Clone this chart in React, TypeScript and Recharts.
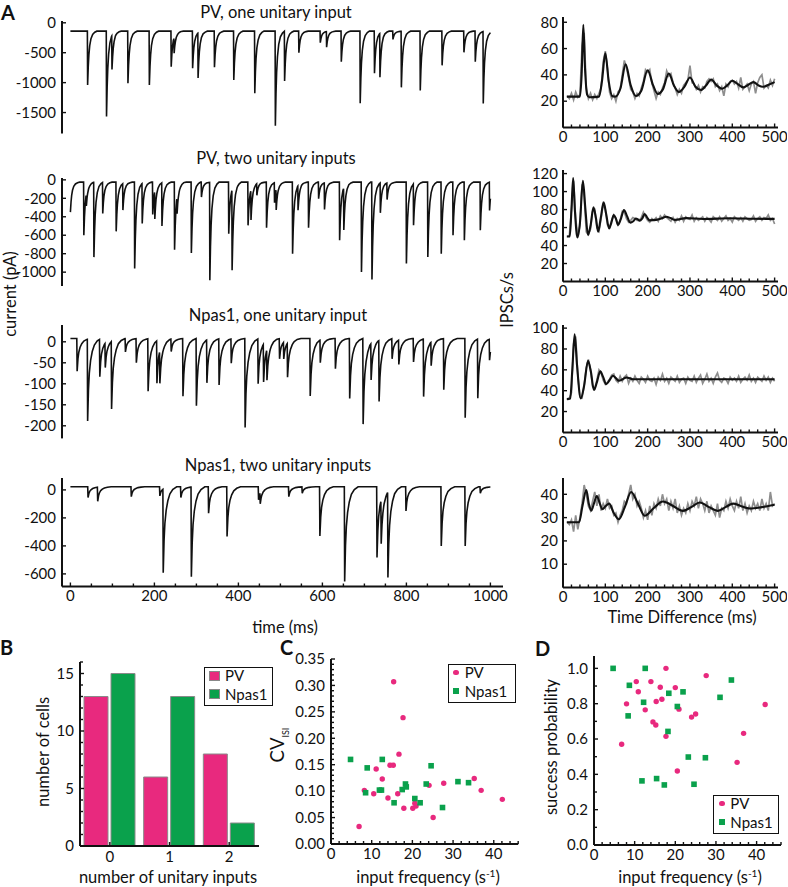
import React from "react";
import {
  LineChart,
  Line,
  XAxis,
  YAxis,
  BarChart,
  Bar,
  ScatterChart,
  Scatter,
  Legend,
} from "recharts";

const FONT = "Lato, 'Open Sans', sans-serif";
const INK = "#111";
const PINK = "#E8297E";
const GREEN = "#0AA14C";
const GRAY = "#8e8e8e";

// ---- panel A, left: IPSC events [time ms, peak pA] ----
const pvOneBase = -140;
const pvOneEvents: [number, number][] = [
  [41, -1039], [86, -1567], [99, -706], [137, -1011], [188, -1039], [240, -733],
  [247, -400], [291, -761], [304, -889], [343, -744], [389, -956], [439, -1178],
  [488, -1722], [510, -972], [544, -500], [595, -333], [610, -400], [645, -650],
  [690, -1344], [724, -844], [737, -872], [768, -278], [788, -1078], [833, -1133],
  [885, -711], [937, -494], [964, -650], [983, -1344],
];
const pvTwoBase = -25;
const pvTwoEvents: [number, number][] = [
  [0, -350], [32, -601], [38, -151], [56, -835], [77, -360], [109, -558], [125, -313],
  [153, -961], [171, -457], [196, -374], [201, -330], [218, -493], [248, -756],
  [254, -200], [288, -792], [312, -187], [332, -1087], [377, -583], [385, -900],
  [423, -493], [430, -350], [444, -151], [467, -518], [486, -241], [490, -250],
  [529, -800], [542, -288], [567, -518], [591, -205], [605, -313], [641, -655],
  [651, -480], [693, -997], [718, -1080], [738, -349], [754, -205], [800, -907],
  [817, -475], [851, -835], [883, -800], [911, -601], [938, -655], [976, -547],
  [998, -331],
];
const npOneBase = 8;
const npOneEvents: [number, number][] = [
  [16, -70], [41, -187], [70, -81], [83, -50], [98, -153], [131, -24], [157, -49],
  [185, -117], [206, -93], [213, -70], [240, -22], [268, -129], [300, -152],
  [325, -94], [354, -102], [383, -50], [416, -204], [447, -99], [460, -82],
  [468, -65], [498, -40], [508, -32], [517, -73], [571, -129], [595, -46],
  [631, -64], [665, -135], [697, -196], [716, -79], [735, -137], [766, -40],
  [782, -50], [817, -48], [841, -129], [859, -48], [889, -114], [940, -181],
  [970, -133], [998, -42],
];
const npTwoBase = 22;
const npTwoEvents: [number, number][] = [
  [42, -55], [65, -79], [145, -48], [213, -43], [221, -576], [263, -55], [288, -619],
  [329, -167], [373, -333], [448, -71], [452, -60], [520, -48], [552, -24],
  [594, -329], [653, -655], [730, -483], [740, -290], [756, -590], [799, -150],
  [883, -400], [940, -400], [976, -24],
];

// IPSC shape templates [ms after onset, fraction of peak]
const PV_SHAPE = [[-0.6, 0], [0, 1], [1.5, 0.66], [3, 0.44], [5, 0.27], [8, 0.14], [12, 0.06], [17, 0.02], [22, 0]];
const NP_SHAPE = [[-0.8, 0], [0, 1], [2, 0.62], [4, 0.42], [7, 0.27], [11, 0.16], [16, 0.08], [23, 0.03], [32, 0]];

// ---- panel A, right: autocorrelograms ----
const grayStart = 10;
const grayStep = 5;
const r1Gray = [24, 22, 26, 21, 27, 23, 25, 62, 72, 30, 22, 26, 21, 25, 22, 26, 30, 50, 58, 45, 27, 22, 25, 20, 27, 29, 40, 51, 45, 38, 29, 27, 22, 26, 24, 30, 35, 44, 42, 44, 34, 28, 22, 27, 25, 30, 34, 43, 39, 41, 34, 30, 25, 29, 26, 32, 34, 36, 47, 34, 33, 29, 32, 27, 31, 30, 35, 37, 35, 37, 31, 33, 28, 31, 24, 33, 31, 35, 36, 33, 35, 30, 38, 29, 31, 33, 28, 33, 35, 26, 34, 38, 40, 30, 32, 30, 36, 32, 37];
const r1Fit: [number, number][] = [[9, 23.5], [40, 23.5], [44, 40], [48, 78], [52, 45], [57, 25], [62, 23], [85, 23.5], [92, 35], [100, 56.5], [108, 35], [116, 24], [124, 23.5], [136, 30], [148, 48], [160, 32], [172, 24], [185, 28], [200, 43.5], [213, 32], [224, 25.5], [236, 29], [250, 41], [262, 32], [274, 27], [287, 31], [300, 38], [313, 31], [326, 28.5], [338, 32], [350, 36.5], [363, 32], [376, 29.5], [388, 32], [400, 35.5], [413, 33], [426, 30.5], [438, 32.5], [450, 34.5], [462, 32], [472, 31], [486, 32.5], [500, 34.5]];

const r2Gray = [50, 51, 80, 112, 70, 50, 62, 108, 95, 55, 52, 58, 78, 80, 60, 56, 70, 86, 80, 63, 60, 68, 74, 70, 63, 68, 78, 77, 70, 66, 68, 71, 70, 68, 68, 71, 77, 72, 68, 66, 70, 68, 71, 67, 73, 70, 74, 71, 69, 67, 71, 66, 70, 68, 73, 67, 72, 70, 69, 74, 67, 71, 68, 70, 72, 67, 71, 69, 66, 72, 70, 68, 72, 67, 70, 73, 68, 70, 66, 72, 70, 68, 71, 67, 72, 70, 68, 69, 73, 67, 70, 72, 68, 71, 70, 74, 68, 70, 64];
const r2Fit: [number, number][] = [[9, 50], [16, 50], [20, 80], [24, 115], [28, 80], [34, 49], [40, 65], [47, 112], [53, 80], [59, 52], [65, 62], [72, 82.5], [78, 70], [83, 55.5], [89, 70], [96, 88], [102, 75], [109, 59], [114, 65], [120, 74], [125, 70], [130, 63], [137, 70], [144, 79.5], [151, 73], [159, 65.5], [166, 67], [172, 70], [177, 69], [181, 67.5], [187, 70], [193, 75], [199, 71], [205, 68], [220, 68.5], [232, 70], [244, 72], [254, 70.5], [264, 68.5], [291, 70.5], [331, 69.5], [394, 70.3], [450, 69.8], [500, 69.6]];

const r3Gray = [31, 33, 38, 85, 92, 55, 34, 33, 45, 62, 70, 60, 44, 42, 50, 60, 57, 50, 46, 48, 51, 55, 56, 50, 48, 54, 49, 53, 55, 47, 52, 49, 54, 50, 47, 53, 51, 48, 54, 50, 49, 52, 46, 53, 50, 56, 49, 52, 47, 53, 51, 49, 54, 48, 51, 52, 47, 53, 50, 49, 54, 48, 52, 55, 47, 51, 56, 49, 52, 47, 53, 57, 50, 48, 52, 51, 47, 53, 50, 52, 49, 54, 48, 51, 53, 50, 55, 49, 52, 48, 53, 51, 49, 54, 50, 53, 48, 52, 49];
const r3Fit: [number, number][] = [[9, 32], [17, 32.6], [22, 60], [27.5, 94], [33, 65], [42, 32.6], [50, 45], [59, 68.7], [66, 58], [73, 40.6], [80, 48], [88, 58.5], [95, 53], [102, 46.3], [110, 50], [118, 54.3], [125, 52], [132, 49.5], [141, 51], [150, 52.7], [165, 51], [250, 51], [350, 51], [500, 51]];

const r4Gray = [28, 27, 29, 24, 31, 25, 30, 36, 44, 40, 35, 33, 37, 41, 35, 40, 33, 36, 34, 38, 34, 35, 31, 32, 28, 31, 33, 37, 36, 40, 44, 38, 40, 35, 37, 34, 30, 33, 29, 35, 31, 36, 34, 38, 35, 40, 36, 38, 33, 37, 34, 38, 32, 35, 31, 34, 32, 36, 33, 37, 35, 39, 34, 38, 36, 33, 37, 32, 35, 33, 31, 36, 30, 34, 33, 37, 34, 38, 35, 33, 37, 34, 39, 33, 36, 32, 35, 33, 37, 34, 36, 33, 38, 34, 36, 33, 41, 35, 36];
const r4Fit: [number, number][] = [[9, 28], [38, 28], [46, 35], [55, 41.8], [61, 36], [67, 33], [73, 36], [80, 39.3], [87, 36], [93, 33.6], [101, 35], [109, 36], [120, 32], [132, 29.3], [147, 35], [161, 41], [177, 36], [193, 30.8], [214, 34], [236, 36.9], [260, 35], [283, 32.9], [303, 34.5], [323, 36.5], [345, 34.5], [366, 32.9], [384, 34.5], [402, 36], [420, 35], [441, 33.9], [470, 34.5], [500, 35.5]];

// ---- panel B ----
const inputCounts = ["0", "1", "2"];
const pvCells = [13, 6, 8];
const npasCells = [15, 13, 2];

// ---- panel C: [input frequency, CV ISI] ----
const pvCv: [number, number][] = [
  [15.4, 0.307], [17.7, 0.239], [16.7, 0.17], [11.1, 0.142], [14.5, 0.149], [15.3, 0.149],
  [12.6, 0.123], [8.2, 0.1015], [10.5, 0.095], [14.0, 0.087], [16.4, 0.095], [17.9, 0.0675],
  [20.1, 0.0675], [20.6, 0.077], [20.9, 0.072], [24.1, 0.111], [25.1, 0.05], [27.7, 0.115],
  [35.2, 0.124], [36.9, 0.1015], [42.1, 0.0845], [6.9, 0.033],
];
const npasCv: [number, number][] = [
  [4.8, 0.16], [8.9, 0.144], [12.6, 0.16], [8.5, 0.097], [11.9, 0.102], [12.4, 0.102],
  [15.5, 0.078], [17.5, 0.103], [18.3, 0.1135], [18.5, 0.108], [20.6, 0.086], [21.9, 0.078],
  [23.4, 0.1135], [24.6, 0.148], [27.4, 0.069], [31.2, 0.118], [33.8, 0.116],
];

// ---- panel D: [input frequency, success probability] ----
const pvSuccess: [number, number][] = [
  [17.7, 1.0], [27.6, 0.959], [10.4, 0.925], [14.0, 0.925], [10.9, 0.868], [16.3, 0.893],
  [20.0, 0.891], [8.0, 0.799], [15.3, 0.812], [16.7, 0.825], [12.6, 0.765], [20.9, 0.769],
  [24.0, 0.724], [25.0, 0.742], [42.1, 0.795], [14.5, 0.697], [15.2, 0.679], [17.7, 0.615],
  [36.8, 0.632], [6.8, 0.57], [35.2, 0.468], [20.5, 0.419],
];
const npasSuccess: [number, number][] = [
  [4.7, 1.0], [12.6, 1.0], [33.8, 0.934], [8.7, 0.904], [18.4, 0.859], [21.9, 0.867],
  [31.0, 0.836], [12.2, 0.808], [20.5, 0.784], [8.4, 0.731], [18.2, 0.643], [23.2, 0.498],
  [27.4, 0.494], [11.8, 0.363], [15.4, 0.376], [17.3, 0.34], [24.6, 0.344],
];

// ---------------------------------------------------------------------------

function buildTrace(events: [number, number][], base: number, shape: number[][]) {
  const ts = new Set<number>([0, 1000]);
  events.forEach(([te]) =>
    shape.forEach(([dt]) => {
      const u = Math.round((te + dt) * 10) / 10;
      if (u >= 0 && u <= 1000) ts.add(u);
    })
  );
  const times = Array.from(ts).sort((a, b) => a - b);
  const last = shape[shape.length - 1][0];
  return times.map((t) => {
    let v = base;
    for (const [te, peak] of events) {
      const d = t - te;
      if (d < shape[0][0] || d > last) continue;
      for (let k = 1; k < shape.length; k++) {
        if (d <= shape[k][0]) {
          const [d0, f0] = shape[k - 1];
          const [d1, f1] = shape[k];
          v += (peak - base) * (f0 + ((f1 - f0) * (d - d0)) / (d1 - d0));
          break;
        }
      }
    }
    return { t, v };
  });
}

const toGray = (vals: number[]) => vals.map((v, i) => ({ t: grayStart + i * grayStep, v }));
const toFit = (pts: [number, number][]) => pts.map(([t, v]) => ({ t, v }));
const toXY = (pts: [number, number][]) => pts.map(([x, y]) => ({ x, y }));

type Rect = { x: number; y: number; w: number; h: number };
function frame(r: Rect, yw: number, xh: number, top = 12, right = 16, bottom = 6) {
  return {
    style: { position: "absolute" as const, left: r.x - yw, top: r.y - top },
    width: yw + r.w + right,
    height: top + r.h + xh + bottom,
    margin: { top, right, bottom, left: 0 },
  };
}

const axisLine = { stroke: INK, strokeWidth: 2 };

const leftTick = (fmt: (v: number) => string, gap = 5) => (p: any) => {
  const ax = p.x + gap;
  const s = fmt(p.payload.value);
  return (
    <g>
      <line x1={ax} x2={ax + (s ? 4 : 3)} y1={p.y} y2={p.y} stroke={INK} strokeWidth={1.4} />
      {s !== "" && (
        <text x={p.x - 1} y={p.y} dy="0.35em" textAnchor="end" fontSize={15} fontFamily={FONT} fill={INK}>
          {s}
        </text>
      )}
    </g>
  );
};

const bottomTick = (fmt: (v: any) => string, gap = 4) => (p: any) => {
  const ay = p.y - gap;
  const s = fmt(p.payload.value);
  return (
    <g>
      <line x1={p.x} x2={p.x} y1={ay} y2={ay - (s ? 4 : 3)} stroke={INK} strokeWidth={1.4} />
      {s !== "" && (
        <text x={p.x} y={p.y} dy="0.71em" textAnchor="middle" fontSize={15} fontFamily={FONT} fill={INK}>
          {s}
        </text>
      )}
    </g>
  );
};

const plain = (v: number) => String(v);
const everyN = (n: number) => (v: number) => (Math.round(v) % n === 0 ? String(v) : "");
const range = (a: number, b: number, s: number) => {
  const out: number[] = [];
  for (let v = a; v <= b + 1e-9; v += s) out.push(Math.round(v * 1000) / 1000);
  return out;
};

// ---------------------------------------------------------------------------

type TraceSpec = { rect: Rect; domain: [number, number]; ticks: number[]; data: { t: number; v: number }[]; showX?: boolean };

const TRACE_X = { x: 62, w: 441 };
const traces: TraceSpec[] = [
  { rect: { ...TRACE_X, y: 21, h: 112.5 }, domain: [-1850, 30], ticks: [-1500, -1000, -500, 0], data: buildTrace(pvOneEvents, pvOneBase, PV_SHAPE) },
  { rect: { ...TRACE_X, y: 177.5, h: 108 }, domain: [-1150, 20], ticks: [-1000, -800, -600, -400, -200, 0], data: buildTrace(pvTwoEvents, pvTwoBase, PV_SHAPE) },
  { rect: { ...TRACE_X, y: 325, h: 113.4 }, domain: [-230, 40], ticks: [-200, -150, -100, -50, 0], data: buildTrace(npOneEvents, npOneBase, NP_SHAPE) },
  { rect: { ...TRACE_X, y: 478, h: 108.5 }, domain: [-690, 85], ticks: [-600, -400, -200, 0], data: buildTrace(npTwoEvents, npTwoBase, NP_SHAPE), showX: true },
];

function Trace({ spec }: { spec: TraceSpec }) {
  const f = frame(spec.rect, 60, spec.showX ? 24 : 0);
  return (
    <div style={f.style}>
      <LineChart width={f.width} height={f.height} margin={f.margin}>
        <XAxis
          type="number"
          dataKey="t"
          domain={[-20, 1030]}
          allowDataOverflow
          hide={!spec.showX}
          height={24}
          ticks={range(0, 1000, 50)}
          interval={0}
          tickLine={false}
          tickSize={0}
          tickMargin={4}
          axisLine={axisLine}
          tick={bottomTick(everyN(200))}
        />
        <YAxis
          type="number"
          width={60}
          domain={spec.domain}
          allowDataOverflow
          ticks={spec.ticks}
          interval={0}
          tickLine={false}
          tickSize={0}
          tickMargin={5}
          axisLine={axisLine}
          tick={leftTick(plain)}
        />
        <Line data={spec.data} dataKey="v" type="linear" stroke={INK} strokeWidth={1.6} dot={false} isAnimationActive={false} />
      </LineChart>
    </div>
  );
}

type CorrSpec = { rect: Rect; domain: [number, number]; ticks: number[]; gray: number[]; fit: [number, number][] };
const CORR_X = { x: 563.3, w: 215 };
const corrs: CorrSpec[] = [
  { rect: { ...CORR_X, y: 16.8, h: 110.5 }, domain: [0, 84], ticks: [20, 40, 60, 80], gray: r1Gray, fit: r1Fit },
  { rect: { ...CORR_X, y: 170, h: 111.5 }, domain: [0, 124], ticks: [20, 40, 60, 80, 100, 120], gray: r2Gray, fit: r2Fit },
  { rect: { ...CORR_X, y: 325.4, h: 107.4 }, domain: [0, 103], ticks: [20, 40, 60, 80, 100], gray: r3Gray, fit: r3Fit },
  { rect: { ...CORR_X, y: 477.5, h: 109.5 }, domain: [0, 47], ticks: [10, 20, 30, 40], gray: r4Gray, fit: r4Fit },
];

function Corr({ spec }: { spec: CorrSpec }) {
  const f = frame(spec.rect, 36, 24, 12, 9);
  return (
    <div style={f.style}>
      <LineChart width={f.width} height={f.height} margin={f.margin}>
        <XAxis
          type="number"
          dataKey="t"
          domain={[0, 508]}
          allowDataOverflow
          height={24}
          ticks={range(0, 500, 20)}
          interval={0}
          tickLine={false}
          tickSize={0}
          tickMargin={4}
          axisLine={axisLine}
          tick={bottomTick(everyN(100))}
        />
        <YAxis
          type="number"
          width={36}
          domain={spec.domain}
          allowDataOverflow
          ticks={spec.ticks}
          interval={0}
          tickLine={false}
          tickSize={0}
          tickMargin={4}
          axisLine={axisLine}
          tick={leftTick(plain, 4)}
        />
        <Line data={toGray(spec.gray)} dataKey="v" type="linear" stroke={GRAY} strokeWidth={1.7} dot={false} isAnimationActive={false} />
        <Line data={toFit(spec.fit)} dataKey="v" type="monotone" stroke={INK} strokeWidth={2.1} dot={false} isAnimationActive={false} />
      </LineChart>
    </div>
  );
}

type LegendItem = { name: string; color: string; shape: "square" | "dot" | "bar" };
const LEGEND_FS = 15;
const legendContent = (items: LegendItem[], w: number, h: number, padLeft: number, slot: number) => () => {
  const rowH = 18.5;
  return (
    <div
      style={{
        position: "relative",
        width: w,
        height: h,
        boxSizing: "border-box",
        border: `1.8px solid ${INK}`,
        background: "#fff",
        fontFamily: FONT,
        fontSize: LEGEND_FS,
        color: INK,
      }}
    >
      {items.map((it, i) => {
        const cy = 9.5 + rowH * i - 1.8;
        const mark =
          it.shape === "bar"
            ? { w: 11, h: 10, r: 0, border: "1px solid #888" }
            : { w: 5.5, h: 5.5, r: it.shape === "dot" ? 3 : 0, border: "none" };
        return (
          <React.Fragment key={it.name}>
            <div
              style={{
                position: "absolute",
                left: padLeft + (slot - mark.w) / 2,
                top: cy - mark.h / 2,
                width: mark.w,
                height: mark.h,
                borderRadius: mark.r,
                background: it.color,
                border: mark.border,
                boxSizing: "border-box",
              }}
            />
            <div
              style={{
                position: "absolute",
                left: padLeft + slot + 5,
                top: cy - LEGEND_FS / 2,
                height: LEGEND_FS,
                lineHeight: `${LEGEND_FS}px`,
                whiteSpace: "nowrap",
              }}
            >
              {it.name}
            </div>
          </React.Fragment>
        );
      })}
    </div>
  );
};

function CellCounts() {
  const rect = { x: 80, y: 661.7, w: 179, h: 184 };
  const top = 12;
  const f = frame(rect, 40, 26, top, 20);
  const data = inputCounts.map((n, i) => ({ n, pv: pvCells[i], npas: npasCells[i] }));
  return (
    <div style={f.style}>
      <BarChart width={f.width} height={f.height} margin={f.margin} data={data} barSize={24} barGap={3}>
        <XAxis
          dataKey="n"
          height={26}
          interval={0}
          tickLine={false}
          tickSize={0}
          tickMargin={5}
          axisLine={axisLine}
          tick={bottomTick((v) => String(v), 5)}
        />
        <YAxis
          type="number"
          width={40}
          domain={[0, 16]}
          ticks={range(0, 16, 1)}
          interval={0}
          tickLine={false}
          tickSize={0}
          tickMargin={5}
          axisLine={axisLine}
          tick={leftTick(everyN(5))}
        />
        <Legend
          layout="vertical"
          align="center"
          verticalAlign="middle"
          wrapperStyle={{ left: 204 - (rect.x - 40), top: 667 - (rect.y - top), width: 69, height: 39 }}
          content={legendContent(
            [
              { name: "PV", color: PINK, shape: "bar" },
              { name: "Npas1", color: GREEN, shape: "bar" },
            ],
            69,
            39,
            3,
            12
          )}
        />
        <Bar dataKey="pv" name="PV" fill={PINK} stroke="#8a8a8a" strokeWidth={1} isAnimationActive={false} />
        <Bar dataKey="npas" name="Npas1" fill={GREEN} stroke="#8a8a8a" strokeWidth={1} isAnimationActive={false} />
      </BarChart>
    </div>
  );
}

const PvDot = (p: any) => <circle cx={p.cx} cy={p.cy} r={2.7} fill={PINK} />;
const NpSquare = (p: any) => <rect x={p.cx - 2.8} y={p.cy - 2.8} width={5.6} height={5.6} fill={GREEN} />;

type ScatterSpec = {
  rect: Rect;
  yDomain: [number, number];
  yTicks: number[];
  yFmt: (v: number) => string;
  pv: [number, number][];
  npas: [number, number][];
  legendBox: { x: number; y: number; w: number; h: number };
};

function FreqScatter({ spec }: { spec: ScatterSpec }) {
  const yw = 45;
  const top = 12;
  const f = frame(spec.rect, yw, 26, top, 14);
  const lb = spec.legendBox;
  return (
    <div style={f.style}>
      <ScatterChart width={f.width} height={f.height} margin={f.margin}>
        <XAxis
          type="number"
          dataKey="x"
          domain={[0, 46]}
          allowDataOverflow
          height={26}
          ticks={range(0, 46, 2)}
          interval={0}
          tickLine={false}
          tickSize={0}
          tickMargin={4}
          axisLine={axisLine}
          tick={bottomTick(everyN(10))}
        />
        <YAxis
          type="number"
          dataKey="y"
          width={yw}
          domain={spec.yDomain}
          allowDataOverflow
          ticks={spec.yTicks}
          interval={0}
          tickLine={false}
          tickSize={0}
          tickMargin={5}
          axisLine={axisLine}
          tick={leftTick(spec.yFmt)}
        />
        <Legend
          layout="vertical"
          align="center"
          verticalAlign="middle"
          wrapperStyle={{ left: lb.x - (spec.rect.x - yw), top: lb.y - (spec.rect.y - top), width: lb.w, height: lb.h }}
          content={legendContent(
            [
              { name: "PV", color: PINK, shape: "dot" },
              { name: "Npas1", color: GREEN, shape: "square" },
            ],
            lb.w,
            lb.h,
            4,
            7
          )}
        />
        <Scatter name="PV" data={toXY(spec.pv)} shape={PvDot} isAnimationActive={false} />
        <Scatter name="Npas1" data={toXY(spec.npas)} shape={NpSquare} isAnimationActive={false} />
      </ScatterChart>
    </div>
  );
}

const cvTicks = range(0, 0.35, 0.01);
const cvFmt = (v: number) => (Math.round(v * 100) % 5 === 0 ? v.toFixed(2) : "");
const spTicks = range(0, 1.0, 0.1);
const spFmt = (v: number) => (Math.round(v * 10) % 2 === 0 ? v.toFixed(1) : "");

const scatterC: ScatterSpec = {
  rect: { x: 330.7, y: 659, w: 187.2, h: 185 },
  yDomain: [0, 0.35],
  yTicks: cvTicks,
  yFmt: cvFmt,
  pv: pvCv,
  npas: npasCv,
  legendBox: { x: 447.7, y: 664, w: 68, h: 39 },
};
const scatterD: ScatterSpec = {
  rect: { x: 593.8, y: 656, w: 187, h: 189 },
  yDomain: [0, 1.07],
  yTicks: spTicks,
  yFmt: spFmt,
  pv: pvSuccess,
  npas: npasSuccess,
  legendBox: { x: 713.3, y: 795, w: 66, h: 39 },
};

function Labels() {
  const t = { fontFamily: FONT, fontSize: 16.5, fill: INK };
  const letter = { fontFamily: FONT, fontSize: 20, fontWeight: 700, fill: INK };
  const rot = (x: number, y: number) => `translate(${x},${y}) rotate(-90)`;
  return (
    <svg width={788} height={887} style={{ position: "absolute", left: 0, top: 0, pointerEvents: "none" }}>
      <text x={1} y={20} {...letter}>A</text>
      <text x={0} y={655} {...letter}>B</text>
      <text x={280} y={655} {...letter}>C</text>
      <text x={535} y={656} {...letter}>D</text>

      <text x={276} y={12} dy="0.35em" textAnchor="middle" {...t}>PV, one unitary input</text>
      <text x={276} y={158} dy="0.35em" textAnchor="middle" {...t}>PV, two unitary inputs</text>
      <text x={278} y={315} dy="0.35em" textAnchor="middle" {...t}>Npas1, one unitary input</text>
      <text x={278} y={465} dy="0.35em" textAnchor="middle" {...t}>Npas1, two unitary inputs</text>

      <text transform={rot(10, 294)} dy="0.35em" textAnchor="middle" {...t}>current (pA)</text>
      <text transform={rot(507, 300)} dy="0.35em" textAnchor="middle" {...t}>IPSCs/s</text>
      <text x={285} y={627} dy="0.35em" textAnchor="middle" {...t}>time (ms)</text>
      <text x={682} y={617} dy="0.35em" textAnchor="middle" {...t}>Time Difference (ms)</text>

      <text transform={rot(43.5, 752)} dy="0.35em" textAnchor="middle" {...t}>number of cells</text>
      <text x={168} y={877} dy="0.35em" textAnchor="middle" {...t}>number of unitary inputs</text>

      <text transform={rot(278, 745)} dy="0.35em" textAnchor="middle" fontFamily={FONT} fill={INK}>
        <tspan fontSize={18.5}>CV</tspan>
        <tspan fontSize={9} dy={5}>ISI</tspan>
      </text>
      <text x={428} y={877} dy="0.35em" textAnchor="middle" {...t}>
        input frequency (s<tspan fontSize={10} dy={-6}>-1</tspan><tspan dy={6}>)</tspan>
      </text>

      <text transform={rot(551, 747)} dy="0.35em" textAnchor="middle" {...t}>success probability</text>
      <text x={690} y={877} dy="0.35em" textAnchor="middle" {...t}>
        input frequency (s<tspan fontSize={10} dy={-6}>-1</tspan><tspan dy={6}>)</tspan>
      </text>
    </svg>
  );
}

export default function App() {
  return (
    <div style={{ position: "absolute", left: 0, top: 0, width: 788, height: 887, overflow: "hidden", background: "#fff", fontFamily: FONT }}>
      {traces.map((s, i) => (
        <Trace key={i} spec={s} />
      ))}
      {corrs.map((s, i) => (
        <Corr key={i} spec={s} />
      ))}
      <CellCounts />
      <FreqScatter spec={scatterC} />
      <FreqScatter spec={scatterD} />
      <Labels />
    </div>
  );
}
